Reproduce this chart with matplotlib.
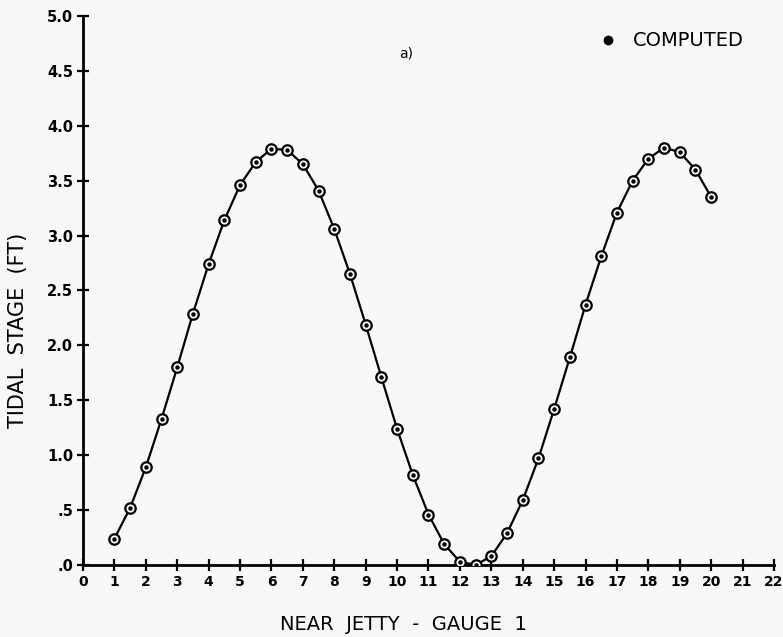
import numpy as np
import matplotlib
matplotlib.use("Agg")
import matplotlib.pyplot as plt

# tidal stage, one point every half hour
hours = [1.0, 1.5, 2.0, 2.5, 3.0, 3.5, 4.0, 4.5, 5.0, 5.5, 6.0, 6.5, 7.0, 7.5,
         8.0, 8.5, 9.0, 9.5, 10.0, 10.5, 11.0, 11.5, 12.0, 12.5, 13.0, 13.5,
         14.0, 14.5, 15.0, 15.5, 16.0, 16.5, 17.0, 17.5, 18.0, 18.5, 19.0,
         19.5, 20.0]
stage = [0.24, 0.52, 0.89, 1.33, 1.80, 2.29, 2.74, 3.14, 3.46, 3.67, 3.79,
         3.78, 3.65, 3.41, 3.06, 2.65, 2.19, 1.71, 1.24, 0.82, 0.46, 0.19,
         0.03, 0.00, 0.08, 0.29, 0.59, 0.97, 1.42, 1.89, 2.37, 2.81, 3.21,
         3.50, 3.70, 3.80, 3.76, 3.60, 3.35]

xticks = list(range(0, 23))
yticks = [0.0, 0.5, 1.0, 1.5, 2.0, 2.5, 3.0, 3.5, 4.0, 4.5, 5.0]
ytick_labels = [".0", ".5", "1.0", "1.5", "2.0", "2.5", "3.0", "3.5", "4.0", "4.5", "5.0"]

plt.rcParams['font.family'] = ['DejaVu Sans']
bg = '#f8f8f7'

fig = plt.figure(figsize=(7.83, 6.37), dpi=100, facecolor=bg)
ax = fig.add_axes([0.106, 0.113, 0.8825, 0.862])
ax.set_facecolor(bg)

ax.plot(hours, stage, color='black', lw=1.6, zorder=2)
ax.plot(hours, stage, ls='none', marker='o', ms=7.5, mfc=bg, mec='black',
        mew=1.6, zorder=3)
ax.plot(hours, stage, ls='none', marker='o', ms=2.2, color='black', zorder=4)

ax.set_xlim(0, 22)
ax.set_ylim(0, 5.0)
ax.set_xticks(xticks)
ax.set_xticklabels([str(t) for t in xticks], fontweight='bold', fontsize=10)
ax.set_yticks(yticks)
ax.set_yticklabels(ytick_labels, fontweight='bold', fontsize=10.5)
ax.tick_params(direction='inout', length=8, width=1.6, pad=3)

for s in ['top', 'right']:
    ax.spines[s].set_visible(False)
for s in ['left', 'bottom']:
    ax.spines[s].set_linewidth(2)

fig.text(18 / 783, 1 - 330 / 637, "TIDAL  STAGE  (FT)", fontsize=15,
         rotation=90, ha='center', va='center')
fig.text(403 / 783, 1 - 625 / 637, "NEAR  JETTY  -  GAUGE  1", fontsize=14,
         ha='center', va='center')

# legend-like marker and text in the upper right
ax.plot([16.72], [4.78], ls='none', marker='o', ms=6, color='black',
        clip_on=False)
ax.text(17.5, 4.78, "COMPUTED", fontsize=14, va='center', ha='left')
ax.text(10.05, 4.66, "a)", fontsize=10, va='center', ha='left')

fig.savefig("out.png", dpi=100, facecolor=bg)
